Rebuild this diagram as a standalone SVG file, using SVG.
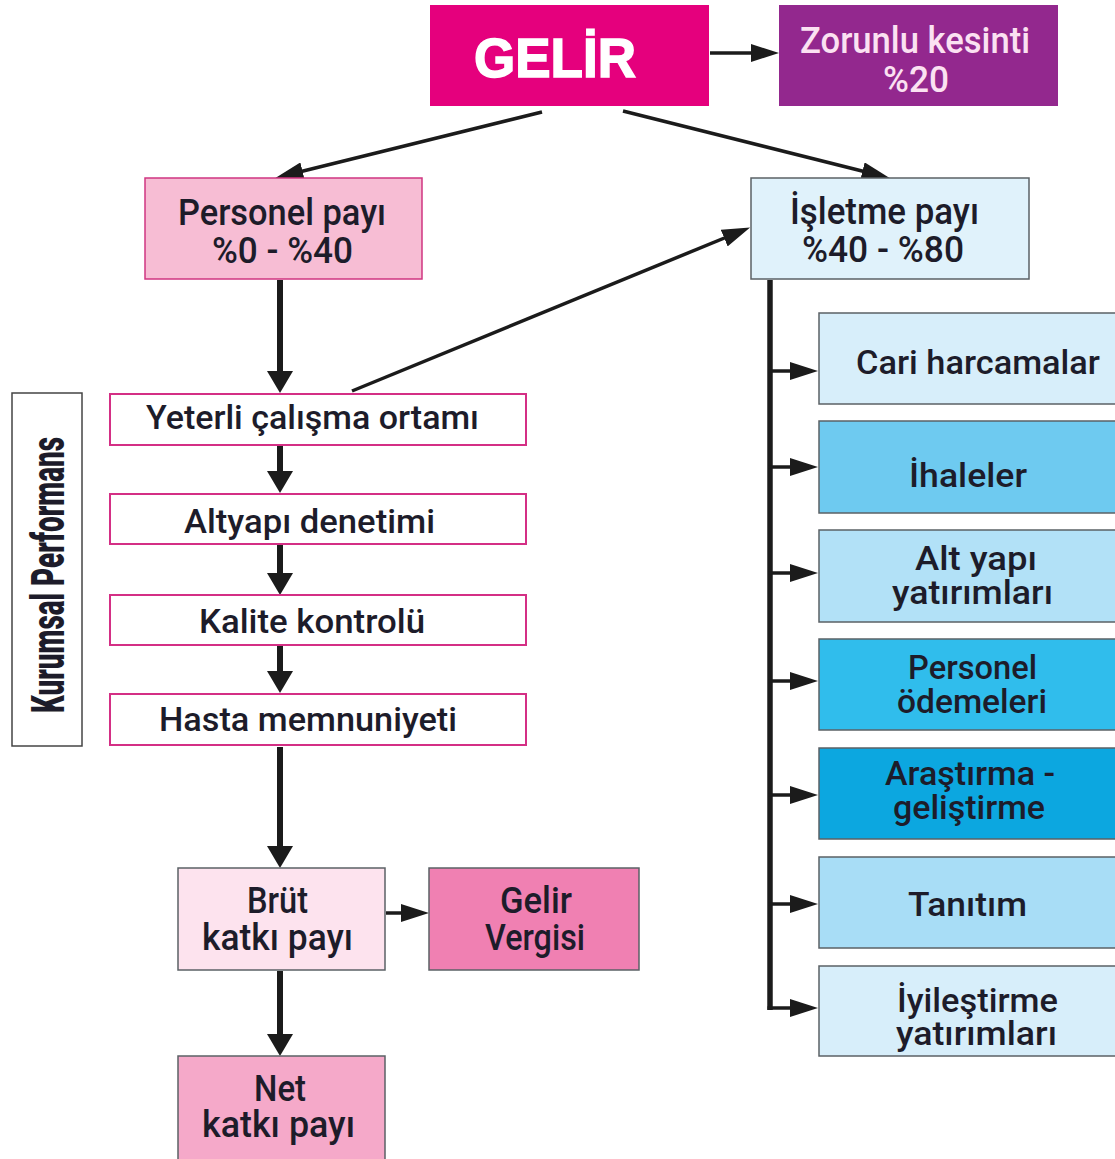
<svg xmlns="http://www.w3.org/2000/svg" width="1115" height="1159" viewBox="0 0 1115 1159">
<defs>
<style>
.t{font-family:Roboto,"Liberation Sans",Arial,sans-serif;font-weight:500;fill:#1d1c2a;text-anchor:start;}
.m{font-size:37px;}
.s{font-size:33px;}
.pink{stroke:#d42f85;stroke-width:2;}
.gray{stroke:#5b6166;stroke-width:1.5;}
.thick{stroke:#1b1b1b;stroke-width:6;fill:none;marker-end:url(#hk);}
.thin{stroke:#1b1b1b;stroke-width:3.5;fill:none;marker-end:url(#hn);}
</style>
<marker id="hk" markerUnits="userSpaceOnUse" markerWidth="22" markerHeight="26" refX="12" refY="13" orient="auto">
<path d="M0,0 L22,13 L0,26 z" fill="#1b1b1b"/>
</marker>
<marker id="hn" markerUnits="userSpaceOnUse" markerWidth="28" markerHeight="18" refX="16" refY="9" orient="auto">
<path d="M0,0 L28,9 L0,18 z" fill="#1b1b1b"/>
</marker>
</defs>
<rect width="1115" height="1159" fill="#ffffff"/>

<g id="connectors">
<line class="thin" x1="710" y1="53" x2="767" y2="53"/>
<line class="thin" x1="542" y1="112" x2="287" y2="175"/>
<line class="thin" x1="623" y1="111" x2="878" y2="175"/>
<line class="thin" x1="352" y1="391" x2="739" y2="232"/>
<line class="thick" x1="280" y1="280" x2="280" y2="383"/>
<line class="thick" x1="280" y1="446" x2="280" y2="483"/>
<line class="thick" x1="280" y1="545" x2="280" y2="585"/>
<line class="thick" x1="280" y1="646" x2="280" y2="683"/>
<line class="thick" x1="280" y1="747" x2="280" y2="858"/>
<line class="thick" x1="280" y1="971" x2="280" y2="1046"/>
<line class="thin" x1="386" y1="913" x2="417" y2="913"/>
<path d="M770,280 V1010" stroke="#1b1b1b" stroke-width="5.5" fill="none"/>
<line class="thin" x1="768" y1="371" x2="806" y2="371"/>
<line class="thin" x1="768" y1="467" x2="806" y2="467"/>
<line class="thin" x1="768" y1="573" x2="806" y2="573"/>
<line class="thin" x1="768" y1="681" x2="806" y2="681"/>
<line class="thin" x1="768" y1="795" x2="806" y2="795"/>
<line class="thin" x1="768" y1="904" x2="806" y2="904"/>
<line class="thin" x1="767.5" y1="1008" x2="806" y2="1008"/>
</g>

<g id="gelir">
<rect x="430" y="5" width="279" height="101" fill="#e5007d"/>
<text x="474" y="77" style="font-family:'Liberation Sans',Arial,sans-serif;font-weight:bold;font-size:55px;fill:#ffffff;stroke:#ffffff;stroke-width:1.5" textLength="162" lengthAdjust="spacingAndGlyphs">GELİR</text>
</g>

<g id="zorunlu">
<rect x="779" y="5" width="279" height="101" fill="#93288e"/>
<text class="t m" x="800" y="53" style="fill:#fbe1f2" textLength="230" lengthAdjust="spacingAndGlyphs">Zorunlu kesinti</text>
<text class="t m" x="883" y="92" style="fill:#fbe1f2" textLength="66" lengthAdjust="spacingAndGlyphs">%20</text>
</g>

<g id="personel-payi">
<rect x="145" y="178" width="277" height="101" fill="#f7bdd4" stroke="#d03681" stroke-width="1.5"/>
<text class="t m" x="178" y="225" textLength="208" lengthAdjust="spacingAndGlyphs">Personel payı</text>
<text class="t m" x="212" y="263" textLength="141" lengthAdjust="spacingAndGlyphs">%0 - %40</text>
</g>

<g id="isletme-payi">
<rect x="751" y="178" width="278" height="101" fill="#e0f2fb" class="gray"/>
<text class="t m" x="790" y="224" textLength="189" lengthAdjust="spacingAndGlyphs">İşletme payı</text>
<text class="t m" x="802" y="262" textLength="162" lengthAdjust="spacingAndGlyphs">%40 - %80</text>
</g>

<g id="kurumsal">
<rect x="12" y="393" width="70" height="353" fill="#ffffff" stroke="#444" stroke-width="1.5"/>
<text x="64" y="713" transform="rotate(-90 64 713)" style="font-family:Roboto,'Liberation Sans',Arial,sans-serif;font-weight:900;font-size:46px;fill:#1d1c2a" textLength="276" lengthAdjust="spacingAndGlyphs">Kurumsal Performans</text>
</g>

<g id="yeterli">
<rect x="110" y="394" width="416" height="51" fill="#ffffff" class="pink"/>
<text class="t s" x="146" y="429" textLength="333" lengthAdjust="spacingAndGlyphs">Yeterli çalışma ortamı</text>
</g>
<g id="altyapi">
<rect x="110" y="494" width="416" height="50" fill="#ffffff" class="pink"/>
<text class="t s" x="184" y="533" textLength="251" lengthAdjust="spacingAndGlyphs">Altyapı denetimi</text>
</g>
<g id="kalite">
<rect x="110" y="595" width="416" height="50" fill="#ffffff" class="pink"/>
<text class="t s" x="199" y="633" textLength="226" lengthAdjust="spacingAndGlyphs">Kalite kontrolü</text>
</g>
<g id="hasta">
<rect x="110" y="694" width="416" height="51" fill="#ffffff" class="pink"/>
<text class="t s" x="159" y="731" textLength="298" lengthAdjust="spacingAndGlyphs">Hasta memnuniyeti</text>
</g>

<g id="brut">
<rect x="178" y="868" width="207" height="102" fill="#fde3ee" class="gray"/>
<text class="t m" x="247" y="913" textLength="61" lengthAdjust="spacingAndGlyphs">Brüt</text>
<text class="t m" x="202" y="950" textLength="151" lengthAdjust="spacingAndGlyphs">katkı payı</text>
</g>
<g id="gelir-vergisi">
<rect x="429" y="868" width="210" height="102" fill="#f080b2" class="gray"/>
<text class="t m" x="500" y="913" textLength="72" lengthAdjust="spacingAndGlyphs">Gelir</text>
<text class="t m" x="485" y="950" textLength="100" lengthAdjust="spacingAndGlyphs">Vergisi</text>
</g>
<g id="net">
<rect x="178" y="1056" width="207" height="110" fill="#f5a9c9" class="gray"/>
<text class="t m" x="254" y="1101" textLength="52" lengthAdjust="spacingAndGlyphs">Net</text>
<text class="t m" x="202" y="1137" textLength="153" lengthAdjust="spacingAndGlyphs">katkı payı</text>
</g>

<g id="cari">
<rect x="819" y="313" width="300" height="91" fill="#d7eefa" class="gray"/>
<text class="t s" x="856" y="374" textLength="244" lengthAdjust="spacingAndGlyphs">Cari harcamalar</text>
</g>
<g id="ihaleler">
<rect x="819" y="421" width="300" height="92" fill="#6ecaf0" class="gray"/>
<text class="t s" x="909" y="487" textLength="118" lengthAdjust="spacingAndGlyphs">İhaleler</text>
</g>
<g id="altyapi-yat">
<rect x="819" y="530" width="300" height="92" fill="#b2e1f7" class="gray"/>
<text class="t s" x="915" y="570" textLength="122" lengthAdjust="spacingAndGlyphs">Alt yapı</text>
<text class="t s" x="892" y="604" textLength="161" lengthAdjust="spacingAndGlyphs">yatırımları</text>
</g>
<g id="personel-odemeleri">
<rect x="819" y="639" width="300" height="91" fill="#30bdec" class="gray"/>
<text class="t s" x="908" y="679" textLength="129" lengthAdjust="spacingAndGlyphs">Personel</text>
<text class="t s" x="897" y="713" textLength="150" lengthAdjust="spacingAndGlyphs">ödemeleri</text>
</g>
<g id="arastirma">
<rect x="819" y="748" width="300" height="91" fill="#0ca7e0" class="gray"/>
<text class="t s" x="885" y="785" textLength="170" lengthAdjust="spacingAndGlyphs">Araştırma -</text>
<text class="t s" x="893" y="819" textLength="152" lengthAdjust="spacingAndGlyphs">geliştirme</text>
</g>
<g id="tanitim">
<rect x="819" y="857" width="300" height="91" fill="#a8ddf6" class="gray"/>
<text class="t s" x="908" y="916" textLength="119" lengthAdjust="spacingAndGlyphs">Tanıtım</text>
</g>
<g id="iyilestirme">
<rect x="819" y="966" width="300" height="90" fill="#d7eefa" class="gray"/>
<text class="t s" x="897" y="1012" textLength="161" lengthAdjust="spacingAndGlyphs">İyileştirme</text>
<text class="t s" x="896" y="1045" textLength="161" lengthAdjust="spacingAndGlyphs">yatırımları</text>
</g>
</svg>
